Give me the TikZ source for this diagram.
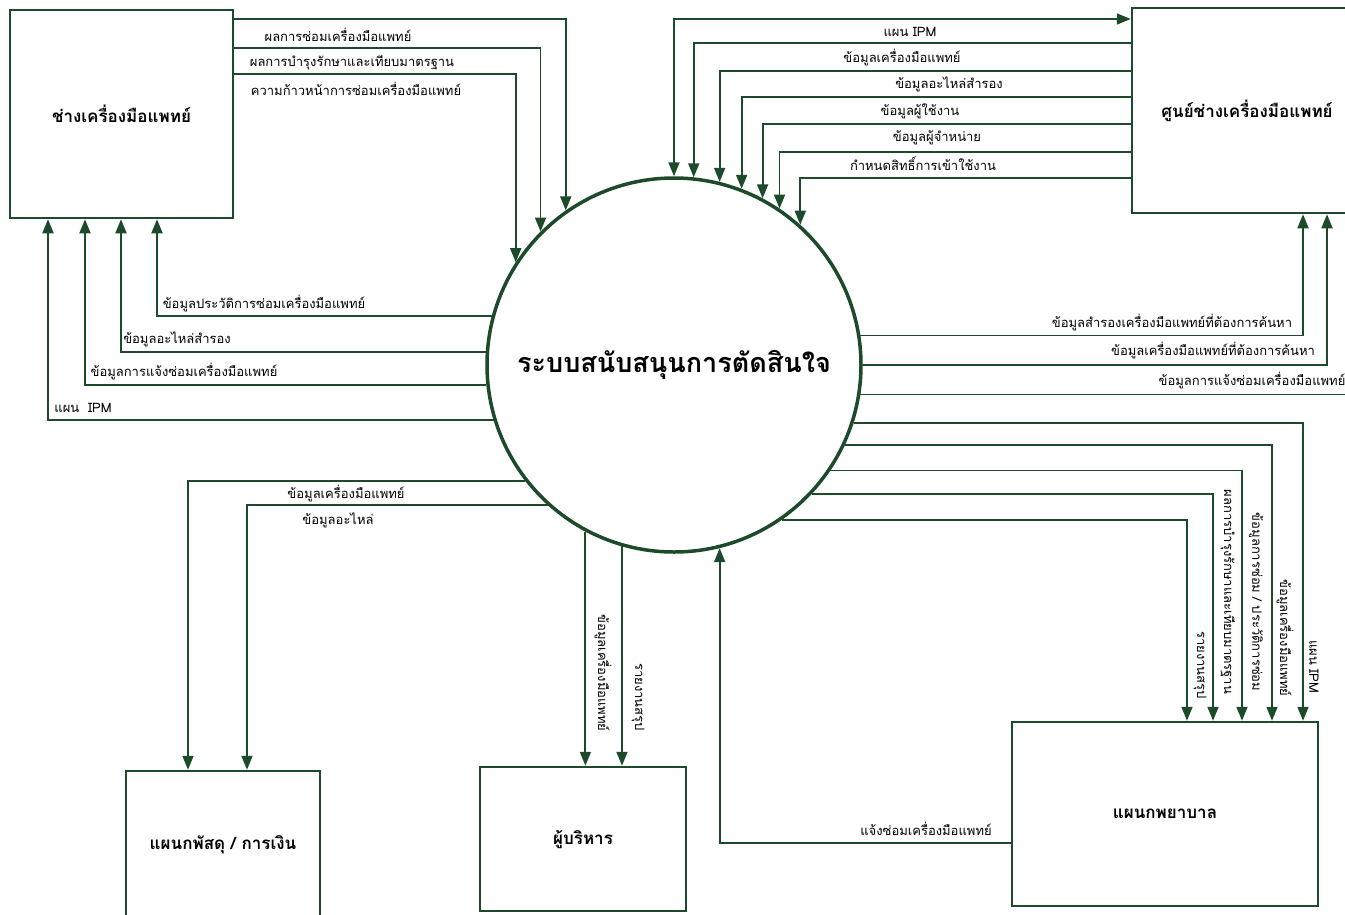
\documentclass[tikz,border=0pt]{standalone}
\usepackage{fontspec}
\usetikzlibrary{arrows.meta}
\newfontfamily\thai[Script=Thai]{Loma}
\definecolor{dfd}{HTML}{1E4A2C}
\begin{document}
\begin{tikzpicture}[x=1pt,y=-1pt,
  every node/.style={font=\thai},
  ent/.style={draw=dfd, line width=2.5pt, fill=white, inner sep=0pt,
    font=\thai\bfseries\fontsize{17}{20}\selectfont},
  proc/.style={circle, draw=dfd, line width=3.5pt, minimum size=374pt, inner sep=0pt,
    font=\thai\bfseries\fontsize{27}{32}\selectfont},
  tip/.style={Triangle[length=14pt,width=11pt]},
  flow/.style={draw=dfd, line width=1.8pt, -{Triangle[length=14pt,width=11pt]}},
  flowboth/.style={draw=dfd, line width=1.8pt, {Triangle[length=14pt,width=11pt]}-{Triangle[length=14pt,width=11pt]}},
  lbl/.style={font=\thai\fontsize{13}{15}\selectfont, inner sep=1pt, text=black},
  vlbl/.style={lbl, rotate=-90},
]
\useasboundingbox (0,0) rectangle (1345,914);
\clip (0,0) rectangle (1345,914);

% external entities and the process
\node[ent, minimum width=223pt, minimum height=208pt] (tech) at (121.5,114) {ช่างเครื่องมือแพทย์};
\node[ent, minimum width=230pt, minimum height=205pt] (center) at (1247,110.5) {ศูนย์ช่างเครื่องมือแพทย์};
\node[ent, minimum width=194pt, minimum height=148pt] (supply) at (223,845) {แผนกพัสดุ / การเงิน};
\node[ent, minimum width=206pt, minimum height=144pt] (exec) at (583,839) {ผู้บริหาร};
\node[ent, minimum width=306pt, minimum height=184pt] (nurse) at (1165,814) {แผนกพยาบาล};
\node[proc] (dss) at (674,365) {ระบบสนับสนุนการตัดสินใจ};
\coordinate (rim) at (1362,0);

% technician -> system
\draw[flow] (tech.east |- 0,19) -| (dss.125.66);
\draw[flow] (tech.east |- 0,48) -| (dss.135.77);
\draw[flow] (tech.east |- 0,74) -| (dss.147.67);
\node[lbl] (l1) at (338,35) {ผลการซ่อมเครื่องมือแพทย์};
\node[lbl] (l2) at (352,63) {ผลการบำรุงรักษาและเทียบมาตรฐาน};
\node[lbl] (l3) at (356,89) {ความก้าวหน้าการซ่อมเครื่องมือแพทย์};

% system -> technician
\draw[flow] (dss.165.76) -| (tech.south -| 157,0);
\draw[flow] (dss.176.32) -| (tech.south -| 121,0);
\draw[flow] (dss.186.76) -| (tech.south -| 85,0);
\draw[flow] (dss.197.75) -| (tech.south -| 48,0);
\node[lbl] (l4) at (264,304) {ข้อมูลประวัติการซ่อมเครื่องมือแพทย์};
\node[lbl] (l5) at (177,339) {ข้อมูลอะไหล่สำรอง};
\node[lbl] (l6) at (184,372) {ข้อมูลการแจ้งซ่อมเครื่องมือแพทย์};
\node[lbl] (l7) at (83,408) {แผน~~IPM};

% service centre <-> system
\draw[flowboth] (dss.90.31) |- (center.west |- 0,19);
\draw[flow] (center.west |- 0,43) -| (dss.84.47);
\draw[flow] (center.west |- 0,71) -| (dss.76.08);
\draw[flow] (center.west |- 0,97) -| (dss.69.33);
\draw[flow] (center.west |- 0,124) -| (dss.62.62);
\draw[flow] (center.west |- 0,152) -| (dss.56.58);
\draw[flow] (center.west |- 0,178) -| (dss.48.87);
\node[lbl] (l8) at (910,32) {แผน IPM};
\node[lbl] (l9) at (902,58) {ข้อมูลเครื่องมือแพทย์};
\node[lbl] (l10) at (949,84) {ข้อมูลอะไหล่สำรอง};
\node[lbl] (l11) at (920,111) {ข้อมูลผู้ใช้งาน};
\node[lbl] (l12) at (937,138) {ข้อมูลผู้จำหน่าย};
\node[lbl] (l13) at (923,164) {กำหนดสิทธิ์การเข้าใช้งาน};

% system -> service centre
\draw[flow] (dss.9.23) -| (center.south -| 1303,0);
\draw[flow] (dss.0.61) -| (center.south -| 1327,0);
\draw[flow] (dss.351.08) -- (dss.351.08 -| rim);
\node[lbl] (l14) at (1172,323) {ข้อมูลสำรองเครื่องมือแพทย์ที่ต้องการค้นหา};
\node[lbl] (l15) at (1213,351) {ข้อมูลเครื่องมือแพทย์ที่ต้องการค้นหา};
\node[lbl] (l16) at (1252,381) {ข้อมูลการแจ้งซ่อมเครื่องมือแพทย์};

% system -> nursing department
\draw[flow] (dss.342.90) -| (nurse.north -| 1303,0);
\draw[flow] (dss.335.01) -| (nurse.north -| 1272,0);
\draw[flow] (dss.326.58) -| (nurse.north -| 1242,0);
\draw[flow] (dss.317.22) -| (nurse.north -| 1213,0);
\draw[flow] (dss.305.63) -| (nurse.north -| 1187,0);
\node[vlbl] (l17) at (1314,667) {แผน IPM};
\node[vlbl] (l18) at (1285,638) {ข้อมูลเครื่องมือแพทย์};
\node[vlbl] (l19) at (1256,602) {ข้อมูลการซ่อม / ประวัติการซ่อม};
\node[vlbl] (l20) at (1228,592) {ผลการบำรุงรักษาและเทียบมาตรฐาน};
\node[vlbl] (l21) at (1200,665) {รายงานสรุป};

% nursing department -> system
\draw[flow] (nurse.west |- 0,843) -| (dss.284.87);
\node[lbl] (l22) at (926,829) {แจ้งซ่อมเครื่องมือแพทย์};

% system -> supplies / finance
\draw[flow] (dss.218.34) -| (supply.north -| 188,0);
\draw[flow] (dss.228.47) -| (supply.north -| 247,0);
\node[lbl] (l23) at (346,494) {ข้อมูลเครื่องมือแพทย์};
\node[lbl] (l24) at (338,520) {ข้อมูลอะไหล่};

% system -> executives
\draw[flow] (dss.242.97) -- (exec.north -| dss.242.97);
\draw[flow] (dss.254.49) -- (exec.north -| dss.254.49);
\node[vlbl] (l25) at (603,673) {ข้อมูลเครื่องมือแพทย์};
\node[vlbl] (l26) at (638,697) {รายงานสรุป};
\end{tikzpicture}
\end{document}
